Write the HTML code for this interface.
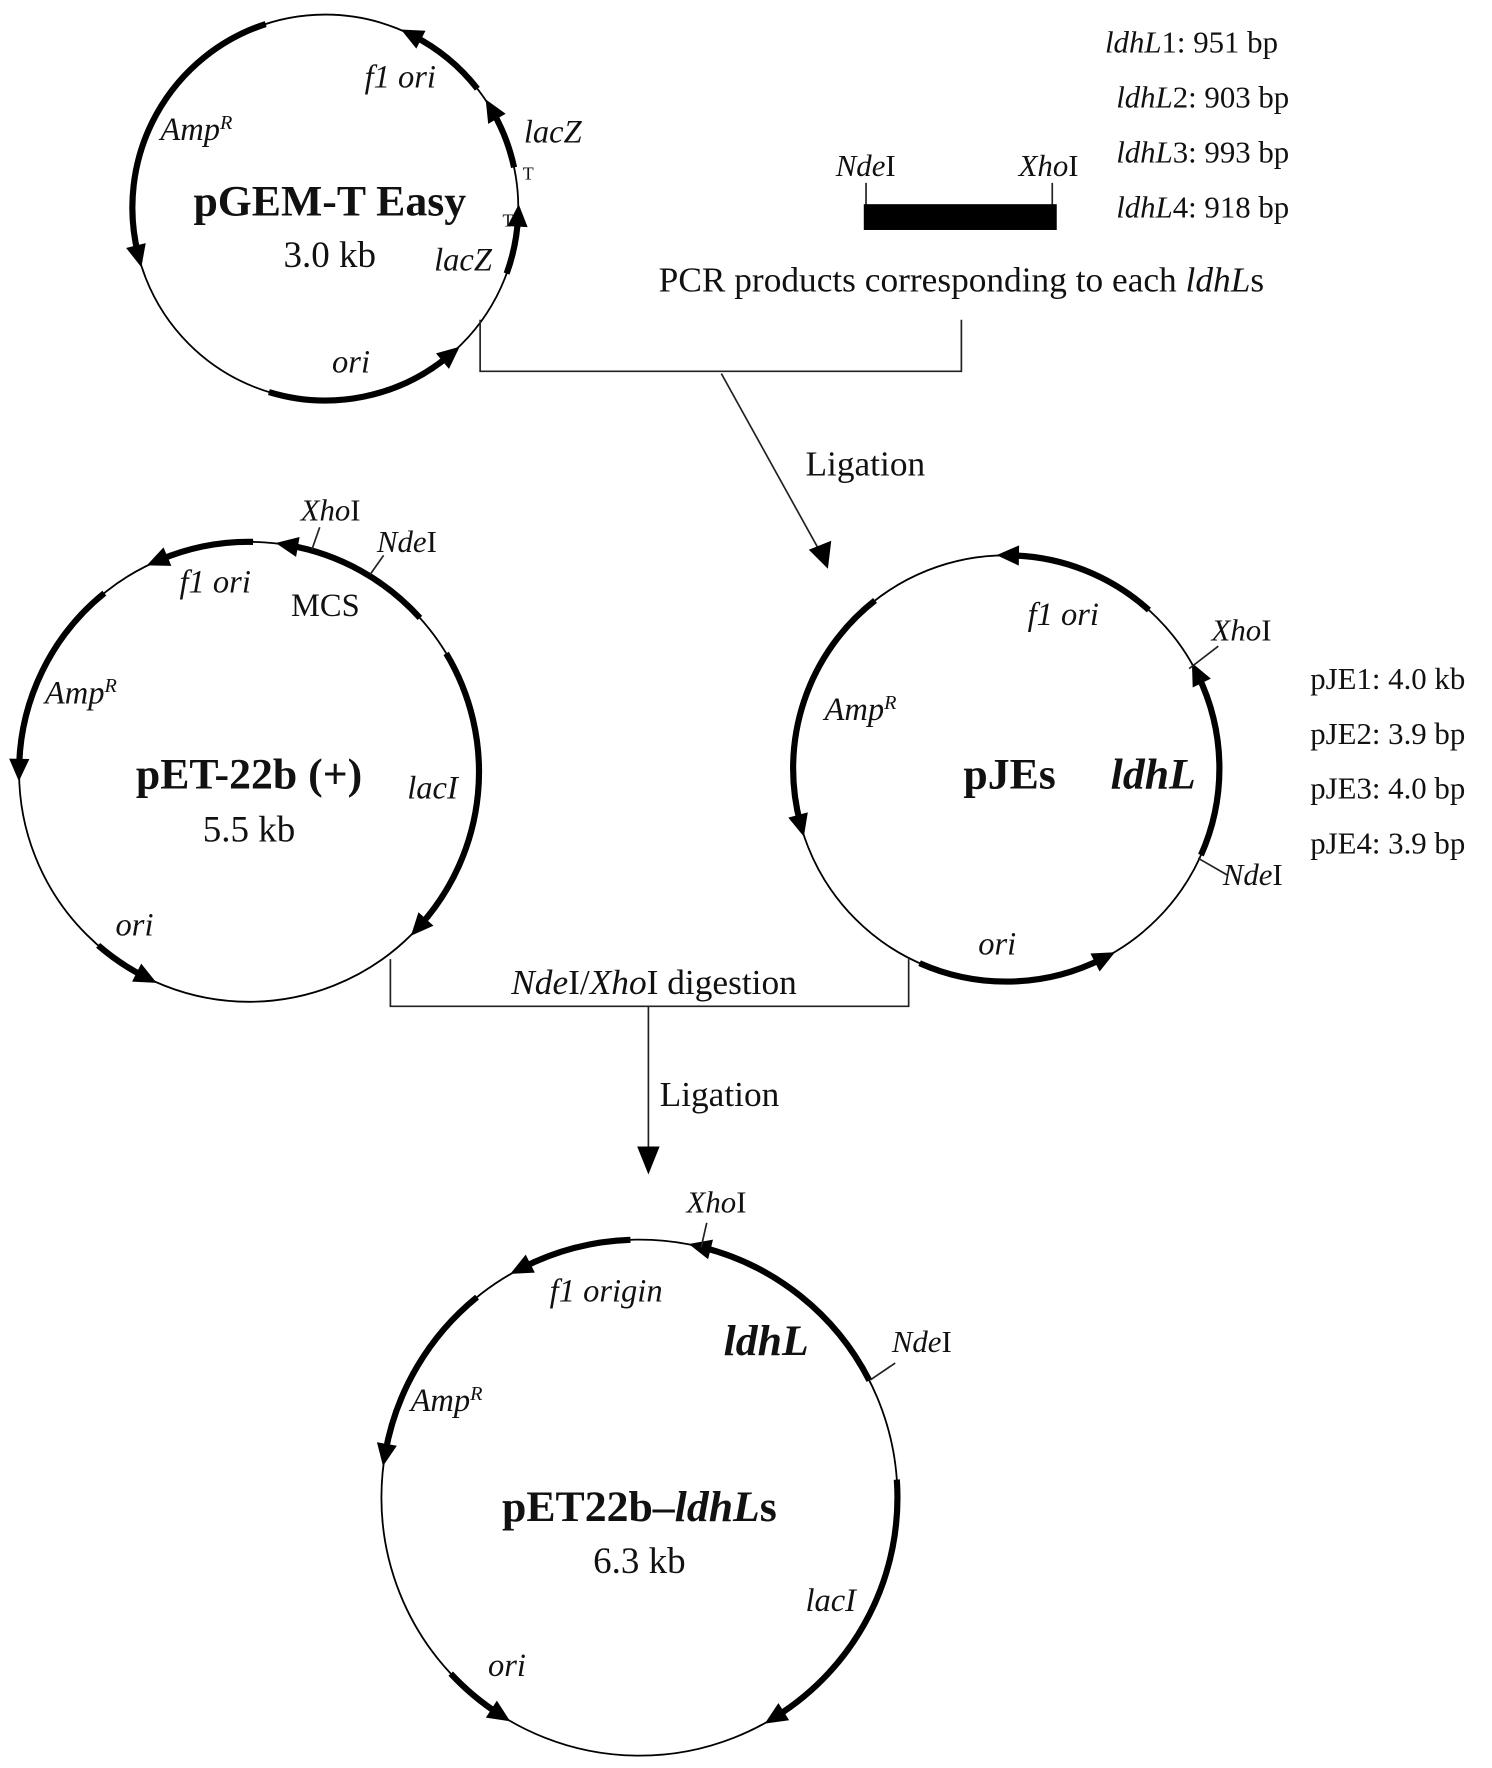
<!DOCTYPE html>
<html><head><meta charset="utf-8"><style>
html,body{margin:0;padding:0;background:#fff;}
svg{display:block;}
text{font-family:"Liberation Serif",serif;fill:#111;}
.i{font-style:italic;}
.b{font-weight:bold;}
</style></head><body>
<svg id="s" width="1492" height="1768" viewBox="0 0 1330 1576" preserveAspectRatio="none" xmlns="http://www.w3.org/2000/svg">
<g id="g" stroke="#000" fill="none"></g>
<g stroke="#222" stroke-width="1.5" fill="none">
<polyline points="428,285 428,331 857,331 857,285"/>
<line x1="643" y1="333" x2="730" y2="490"/>
<polyline points="348,855 348,897 810,897 810,855"/>
<line x1="578" y1="897" x2="578" y2="1025"/>
<line x1="772" y1="163" x2="772" y2="183"/>
<line x1="938" y1="163" x2="938" y2="183"/>
<line x1="278" y1="490" x2="285" y2="470"/>
<line x1="330" y1="512" x2="342" y2="495"/>
<line x1="1060" y1="596" x2="1086" y2="576"/>
<line x1="1068" y1="765" x2="1094" y2="780"/>
<line x1="625" y1="1112" x2="630" y2="1090"/>
<line x1="776" y1="1230" x2="798" y2="1215"/>
</g>
<polygon points="738,507 721,490 741,482" fill="#000"/>
<polygon points="578,1047 568,1022 588,1022" fill="#000"/>
<rect x="770" y="182" width="172" height="23" fill="#000"/>

<g font-size="27.5">
<text x="985" y="47"><tspan class="i">ldhL</tspan>1: 951 bp</text>
<text x="995" y="96"><tspan class="i">ldhL</tspan>2: 903 bp</text>
<text x="995" y="145"><tspan class="i">ldhL</tspan>3: 993 bp</text>
<text x="995" y="194"><tspan class="i">ldhL</tspan>4: 918 bp</text>
<text x="745" y="157"><tspan class="i">Nde</tspan>I</text>
<text x="908" y="157"><tspan class="i">Xho</tspan>I</text>
<text x="1168" y="614">pJE1: 4.0 kb</text>
<text x="1168" y="663">pJE2: 3.9 bp</text>
<text x="1168" y="712">pJE3: 4.0 bp</text>
<text x="1168" y="761">pJE4: 3.9 bp</text>
<text x="268" y="464"><tspan class="i">Xho</tspan>I</text>
<text x="336" y="492"><tspan class="i">Nde</tspan>I</text>
<text x="1080" y="571"><tspan class="i">Xho</tspan>I</text>
<text x="1090" y="789"><tspan class="i">Nde</tspan>I</text>
<text x="612" y="1081"><tspan class="i">Xho</tspan>I</text>
<text x="795" y="1205"><tspan class="i">Nde</tspan>I</text>
</g>
<g font-size="31.5">
<text x="857" y="260" text-anchor="middle">PCR products corresponding to each <tspan class="i">ldhL</tspan>s</text>
<text x="718" y="424">Ligation</text>
<text x="588" y="986">Ligation</text>
<text x="583" y="886" text-anchor="middle"><tspan class="i">Nde</tspan>I/<tspan class="i">Xho</tspan>I digestion</text>
</g>
<g font-size="29" class="i">
<text x="325" y="78">f1 ori</text>
<text x="143" y="125">Amp<tspan font-size="18" dy="-10">R</tspan></text>
<text x="467" y="127">lacZ</text>
<text x="387" y="241">lacZ</text>
<text x="296" y="332">ori</text>
<text x="160" y="528">f1 ori</text>
<text x="40" y="627">Amp<tspan font-size="18" dy="-10">R</tspan></text>
<text x="363" y="712">lacI</text>
<text x="103" y="834">ori</text>
<text x="916" y="557">f1 ori</text>
<text x="735" y="642">Amp<tspan font-size="18" dy="-10">R</tspan></text>
<text x="872" y="851">ori</text>
<text x="490" y="1160">f1 origin</text>
<text x="366" y="1258">Amp<tspan font-size="18" dy="-10">R</tspan></text>
<text x="718" y="1436">lacI</text>
<text x="435" y="1494">ori</text>
</g>
<text x="466" y="160" font-size="16">T</text>
<text x="448" y="202" font-size="16">T</text>
<text x="290" y="549" font-size="29" text-anchor="middle">MCS</text>
<g font-size="39" class="b" text-anchor="middle">
<text x="294" y="192">pGEM-T Easy</text>
<text x="222" y="703">pET-22b (+)</text>
<text x="900" y="703">pJEs</text>
<text x="1028" y="703" class="i">ldhL</text>
<text x="683" y="1208" class="i">ldhL</text>
<text x="570" y="1356">pET22b–<tspan class="i">ldhL</tspan>s</text>
</g>
<g font-size="33" text-anchor="middle">
<text x="294" y="238">3.0 kb</text>
<text x="222" y="750">5.5 kb</text>
<text x="570" y="1402">6.3 kb</text>
</g>
</svg>
<script>
var g=document.getElementById('g'),NS='http://www.w3.org/2000/svg';
function el(t,a){var e=document.createElementNS(NS,t);for(var k in a)e.setAttribute(k,a[k]);g.appendChild(e);return e;}
function P(cx,cy,r,a){a=a*Math.PI/180;return [cx+r*Math.cos(a),cy+r*Math.sin(a)];}
function circle(cx,cy,r){el('circle',{cx:cx,cy:cy,r:r,'stroke-width':1.6});}
function seg(cx,cy,r,a1,a2,arrow){
 var p1=P(cx,cy,r,a1),p2=P(cx,cy,r,a2);
 var big=Math.abs(a2-a1)>180?1:0,sw=a2>a1?1:0;
 el('path',{d:'M'+p1[0]+' '+p1[1]+' A'+r+' '+r+' 0 '+big+' '+sw+' '+p2[0]+' '+p2[1],'stroke-width':5.5});
 if(arrow){
  var dir=a2>a1?1:-1,a=a2*Math.PI/180;
  var tx=-Math.sin(a)*dir,ty=Math.cos(a)*dir;
  var nx=Math.cos(a),ny=Math.sin(a);
  var L=20,W=9;
  var tip=[p2[0]+tx*L*0.6,p2[1]+ty*L*0.6],b=[p2[0]-tx*L*0.4,p2[1]-ty*L*0.4];
  el('polygon',{points:tip[0]+','+tip[1]+' '+(b[0]+nx*W)+','+(b[1]+ny*W)+' '+(b[0]-nx*W)+','+(b[1]-ny*W),fill:'#000','stroke-width':0});
 }
}
circle(290,185,172);
seg(290,185,172,252,166,1);
seg(290,185,172,-38,-63,1);
seg(290,185,172,-12,-30,1);
seg(290,185,172,20,3,1);
seg(290,185,172,107,50,1);
circle(222,688,205);
seg(222,688,205,-89,-113,1);
seg(222,688,205,-42,-80,1);
seg(222,688,205,231,181,1);
seg(222,688,205,-31,42,1);
seg(222,688,205,131,117,1);
circle(897,685,190);
seg(897,685,190,-48,-89,1);
seg(897,685,190,24,-26,1);
seg(897,685,190,232,165,1);
seg(897,685,190,114,63,1);
circle(570,1335,230);
seg(570,1335,230,-92,-117,1);
seg(570,1335,230,-27,-76,1);
seg(570,1335,230,231,190,1);
seg(570,1335,230,-4,58,1);
seg(570,1335,230,137,123,1);
</script>
</body></html>
